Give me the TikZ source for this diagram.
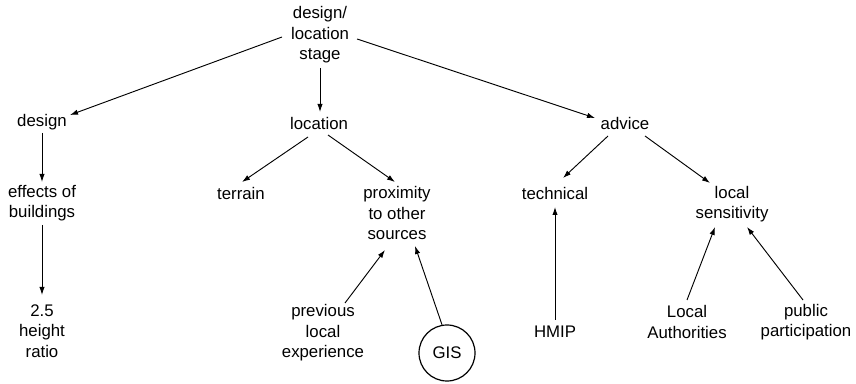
\documentclass[tikz,border=0pt]{standalone}
\usepackage{fontspec}
\setmainfont{Liberation Sans}
\usetikzlibrary{arrows.meta,calc}

\begin{document}
\begin{tikzpicture}[
    x=0.75pt, y=-0.75pt,
    every node/.style={font=\fontsize{12.6pt}{15.4pt}\selectfont},
    lbl/.style={align=center, inner sep=0pt},
    ring/.style={draw, circle, line width=0.9pt, minimum size=42pt, inner sep=0pt},
    arr/.style={line width=0.7pt, -{Latex[length=6pt,width=4pt]}}
  ]
  \useasboundingbox (0,0) rectangle (856,384);

  % nodes of the tree
  \node[lbl] (top)  at (320,35)  {design/\\location\\stage};
  \node[lbl] (design)   at (42,122)  {design};
  \node[lbl] (location) at (319,123) {location};
  \node[lbl] (advice)   at (625,123) {advice};
  \node[lbl] (effects)  at (42,203)  {effects of\\buildings};
  \node[lbl] (terrain)  at (241,193) {terrain};
  \node[lbl] (prox)     at (397,213) {proximity\\to other\\sources};
  \node[lbl] (technical) at (555,193) {technical};
  \node[lbl] (sens)     at (732,204) {local\\sensitivity};
  \node[lbl] (ratio)    at (42,331)  {2.5\\height\\ratio};
  \node[lbl] (previous) at (323,333) {previous\\local\\experience};
  \node[ring] (gis)     at (447,353) {GIS};
  \node[lbl] (hmip)     at (555,332) {HMIP};
  \node[lbl] (la)       at (687,322) {Local\\Authorities};
  \node[lbl] (pp)       at (806,322) {public\\participation};

  % connectors
  \draw[arr] ($(top)+(-38,2)$) -- ($(design)+(28,-7)$);
  \draw[arr] ($(top)+(0,33)$) -- ($(location)+(1,-11)$);
  \draw[arr] ($(top)+(37,4)$) -- ($(advice)+(-30,-5)$);

  \draw[arr] ($(design)+(0,11)$) -- ($(effects)+(0,-21)$);
  \draw[arr] ($(effects)+(0,22)$) -- ($(ratio)+(0,-36)$);

  \draw[arr] ($(location)+(-11,14)$) -- ($(terrain)+(1,-11)$);
  \draw[arr] ($(location)+(9,12)$) -- ($(prox)+(-2,-31)$);
  \draw[arr] ($(previous)+(22,-30)$) -- ($(prox)+(-12,37)$);
  \draw[arr] (gis.100) -- ($(prox)+(18,33)$);

  \draw[arr] ($(advice)+(-17,13)$) -- ($(technical)+(8,-15)$);
  \draw[arr] ($(advice)+(20,13)$) -- ($(sens)+(-22,-21)$);
  \draw[arr] ($(hmip)+(0,-12)$) -- ($(technical)+(0,14)$);
  \draw[arr] ($(la)+(0,-22)$) -- ($(sens)+(-17,23)$);
  \draw[arr] ($(pp)+(-3,-22)$) -- ($(sens)+(15,23)$);
\end{tikzpicture}
\end{document}
